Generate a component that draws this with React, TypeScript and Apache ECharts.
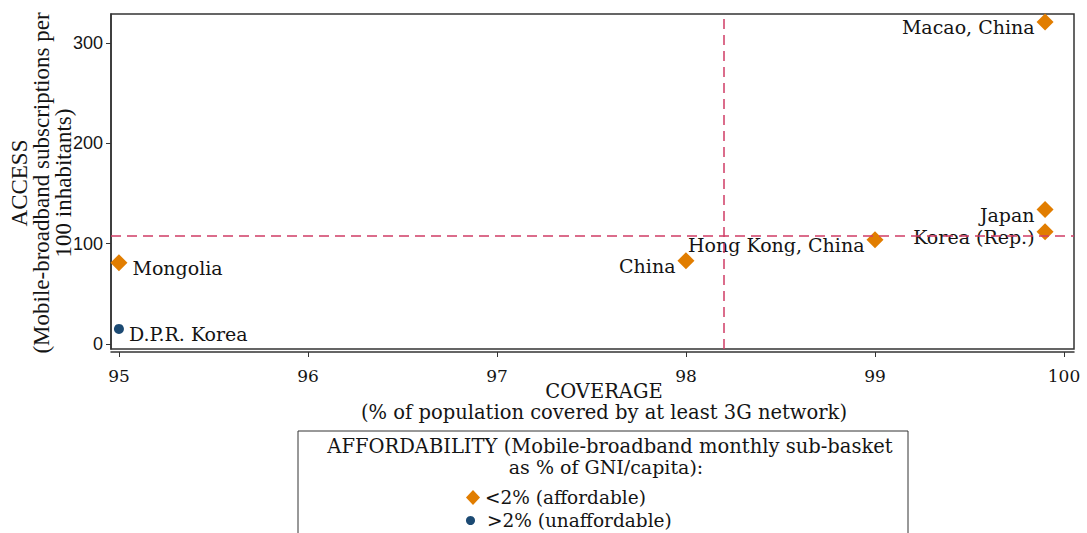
import React, { useEffect, useRef } from "react";
import * as echarts from "echarts";

// ---- data ----
const countries = [
  "Macao, China",
  "Japan",
  "Korea (Rep.)",
  "Hong Kong, China",
  "China",
  "Mongolia",
  "D.P.R. Korea",
];
const coverage = [99.9, 99.9, 99.9, 99.0, 98.0, 95.0, 95.0];
const access = [321, 134, 112, 104, 83, 81, 15];
const affordability = ["<2%", "<2%", "<2%", "<2%", "<2%", "<2%", ">2%"];

const groupNames = ["<2% (affordable)", ">2% (unaffordable)"];
const groupKeys = ["<2%", ">2%"];

const refCoverage = 98.2;
const refAccess = 108;

const xTicks = [95, 96, 97, 98, 99, 100];
const yTicks = [0, 100, 200, 300];

const xTitle = "COVERAGE\n(% of population covered by at least 3G network)";
const yTitle = "ACCESS\n(Mobile-broadband subscriptions per\n100 inhabitants)";
const legendTitle1 = "AFFORDABILITY (Mobile-broadband monthly sub-basket";
const legendTitle2 = "as % of GNI/capita):";

// ---- styles ----
const ORANGE = "#e17d00";
const NAVY = "#1c4a73";
const REF = "#cf3d65";
const AXIS = "#333333";
const TEXT = "#141414";
const SERIF = "DejaVu Serif";
const TITLE_SERIF = "Liberation Serif";
const SANS = "Liberation Sans";

const rightLabelled = new Set(["Mongolia", "D.P.R. Korea"]);

function buildData(key: string) {
  const out: any[] = [];
  countries.forEach((c, i) => {
    if (affordability[i] !== key) return;
    const right = rightLabelled.has(c);
    out.push({
      name: c,
      value: [coverage[i], access[i]],
      label: {
        position: right ? "right" : "left",
        distance: right ? 5 : 2,
      },
    });
  });
  return out;
}

export default function App() {
  const ref = useRef<HTMLDivElement>(null);

  useEffect(() => {
    document.body.style.margin = "0";
    if (!ref.current) return;
    const chart = echarts.init(ref.current, undefined, { renderer: "svg" });

    const labelCommon = {
      show: true,
      formatter: (p: any) => p.name,
      fontFamily: SERIF,
      fontSize: 19,
      color: TEXT,
      opacity: 1,
      offset: [0, 5],
    };

    chart.setOption({
      animation: false,
      backgroundColor: "#ffffff",
      grid: {
        left: 111,
        top: 14,
        right: 13,
        bottom: 184,
        show: true,
        outerBoundsMode: "none",
        containLabel: false,
        borderColor: AXIS,
        borderWidth: 1.5,
        backgroundColor: "transparent",
      },
      xAxis: {
        type: "value",
        min: 94.958,
        max: 100.053,
        offset: 3,
        splitLine: { show: false },
        axisLine: { show: true, onZero: false, lineStyle: { color: AXIS, width: 1.5 } },
        axisTick: {
          show: true,
          length: 5,
          customValues: xTicks,
          lineStyle: { color: AXIS, width: 1 },
        },
        axisLabel: {
          customValues: xTicks,
          margin: 15,
          fontFamily: SERIF,
          fontSize: 17,
          color: TEXT,
          formatter: (v: number) => String(v),
        },
      },
      yAxis: {
        type: "value",
        min: -5,
        max: 329,
        splitLine: { show: false },
        axisLine: { show: true, onZero: false, lineStyle: { color: AXIS, width: 1.5 } },
        axisTick: {
          show: true,
          length: 5,
          customValues: yTicks,
          lineStyle: { color: AXIS, width: 1 },
        },
        axisLabel: {
          customValues: yTicks,
          margin: 8,
          fontFamily: SANS,
          fontSize: 18,
          color: TEXT,
          formatter: (v: number) => String(v),
        },
      },
      legend: [
        {
          data: [groupNames[0]],
          left: 466,
          top: 488,
          padding: 0,
          itemWidth: 14,
          itemHeight: 15,
          selectedMode: false,
          textStyle: { fontFamily: SERIF, fontSize: 18.5, color: TEXT },
        },
        {
          data: [groupNames[1]],
          left: 466,
          top: 511,
          padding: 0,
          itemWidth: 9,
          itemHeight: 9,
          selectedMode: false,
          textStyle: {
            fontFamily: SERIF,
            fontSize: 18.5,
            color: TEXT,
            padding: [0, 0, 0, 7],
          },
        },
      ],
      graphic: [
        {
          type: "text",
          x: 41,
          y: 183,
          rotation: Math.PI / 2,
          style: {
            text: yTitle,
            fontFamily: TITLE_SERIF,
            fontSize: 23,
            lineHeight: 22,
            fill: TEXT,
            align: "center",
            verticalAlign: "middle",
          },
        },
        {
          type: "text",
          x: 604,
          y: 402,
          style: {
            text: xTitle,
            fontFamily: SERIF,
            fontSize: 19.5,
            lineHeight: 21,
            fill: TEXT,
            align: "center",
            verticalAlign: "middle",
          },
        },
        {
          type: "rect",
          shape: { x: 298, y: 431, width: 610, height: 120 },
          style: { fill: "none", stroke: AXIS, lineWidth: 1 },
          silent: true,
        },
        {
          type: "text",
          x: 610,
          y: 446,
          style: {
            text: legendTitle1,
            fontFamily: SERIF,
            fontSize: 19.5,
            fill: TEXT,
            align: "center",
            verticalAlign: "middle",
          },
        },
        {
          type: "text",
          x: 606,
          y: 467,
          style: {
            text: legendTitle2,
            fontFamily: SERIF,
            fontSize: 19,
            fill: TEXT,
            align: "center",
            verticalAlign: "middle",
          },
        },
      ],
      series: [
        {
          name: groupNames[0],
          type: "scatter",
          symbol: "diamond",
          symbolSize: 17,
          itemStyle: { color: ORANGE, opacity: 1 },
          label: labelCommon,
          data: buildData(groupKeys[0]),
          markLine: {
            silent: true,
            symbol: "none",
            label: { show: false },
            lineStyle: { color: REF, type: [10, 6], width: 1.5, opacity: 1 },
            data: [{ xAxis: refCoverage }, { yAxis: refAccess }],
          },
        },
        {
          name: groupNames[1],
          type: "scatter",
          symbol: "circle",
          symbolSize: 10,
          itemStyle: { color: NAVY, opacity: 1 },
          label: labelCommon,
          data: buildData(groupKeys[1]),
        },
      ],
    });

    return () => chart.dispose();
  }, []);

  return <div ref={ref} style={{ width: 1087, height: 533 }} />;
}
